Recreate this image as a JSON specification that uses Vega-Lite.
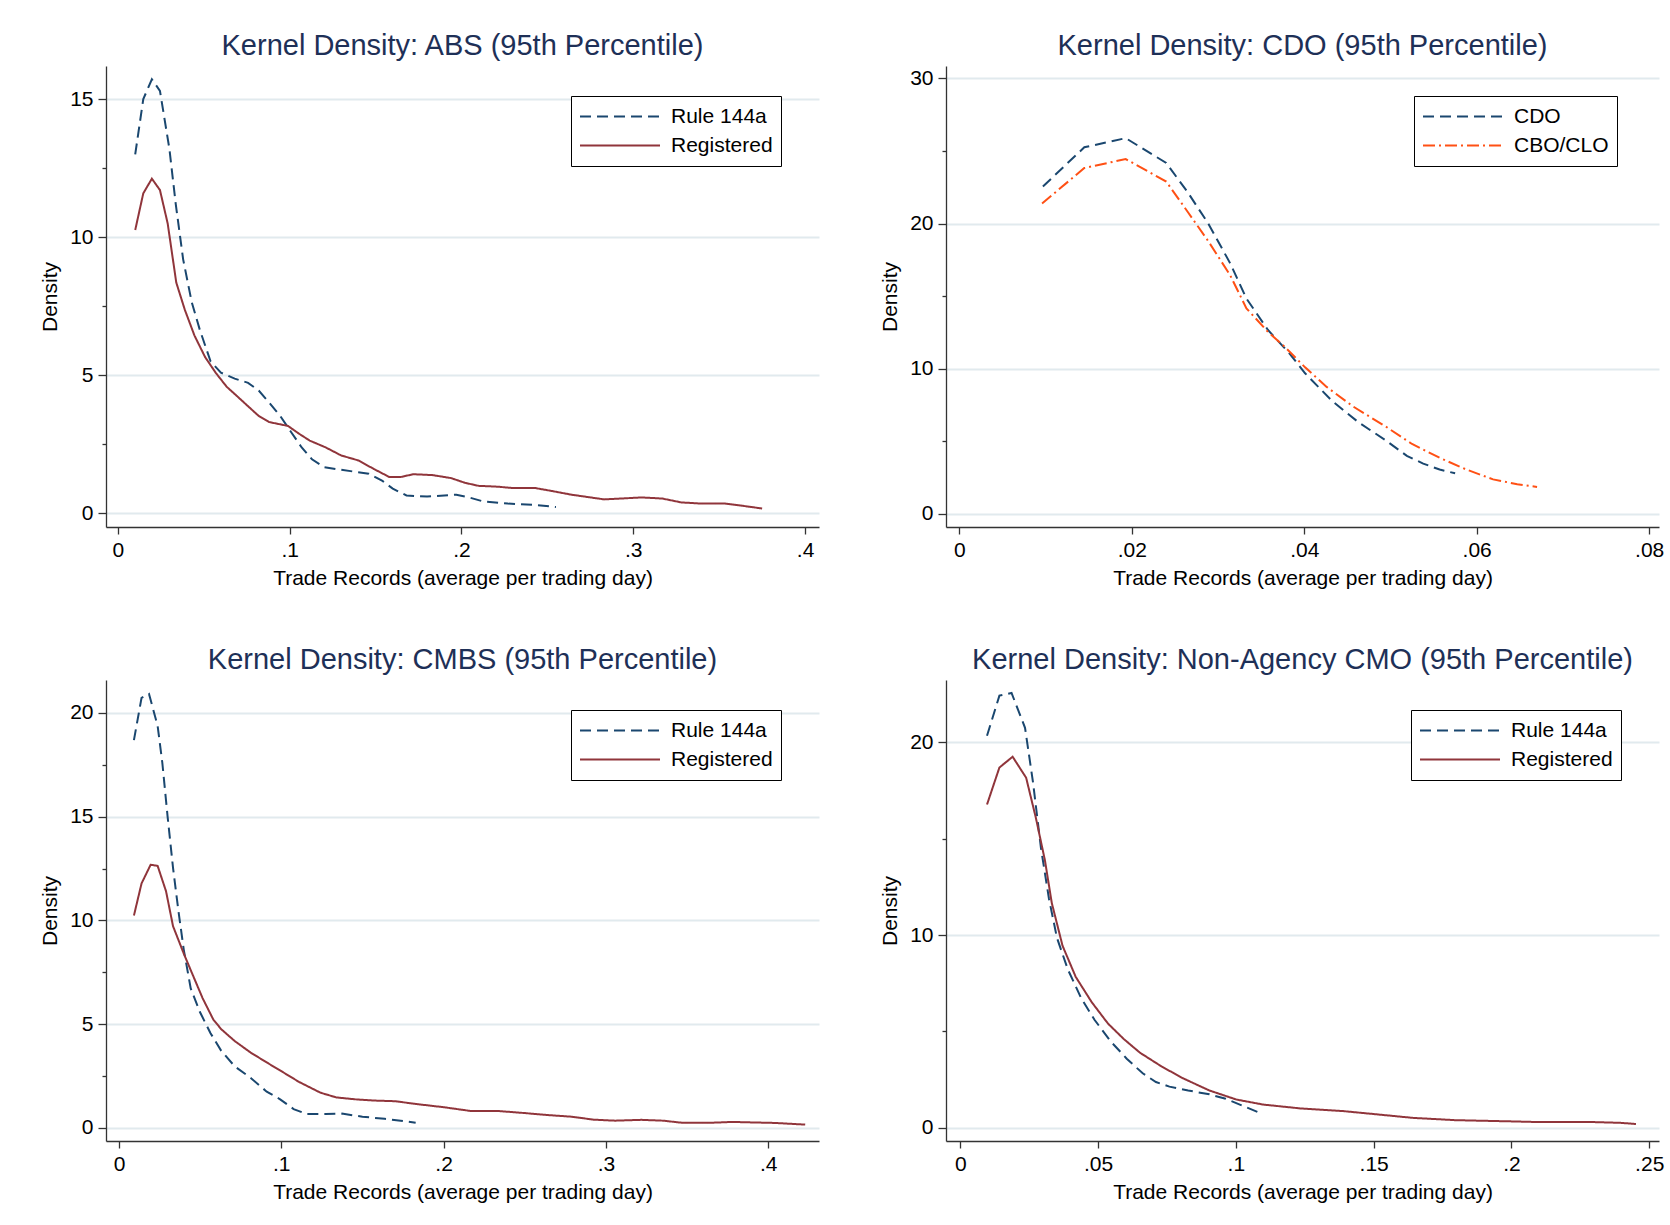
{
  "$schema": "https://vega.github.io/schema/vega-lite/v6.json",
  "background": "white",
  "padding": {"left": 39, "top": 32, "right": 5, "bottom": 5},
  "bounds": "flush",
  "columns": 2,
  "spacing": {"row": 153, "column": 127},
  "datasets": {
    "abs": [
      {"x": 0.0101, "density": 13.0, "series": "Rule 144a"},
      {"x": 0.0148, "density": 15.0, "series": "Rule 144a"},
      {"x": 0.0198, "density": 15.72, "series": "Rule 144a"},
      {"x": 0.0245, "density": 15.3, "series": "Rule 144a"},
      {"x": 0.030, "density": 13.2, "series": "Rule 144a"},
      {"x": 0.0337, "density": 11.2, "series": "Rule 144a"},
      {"x": 0.038, "density": 9.2, "series": "Rule 144a"},
      {"x": 0.043, "density": 7.65, "series": "Rule 144a"},
      {"x": 0.0477, "density": 6.65, "series": "Rule 144a"},
      {"x": 0.054, "density": 5.5, "series": "Rule 144a"},
      {"x": 0.060, "density": 5.1, "series": "Rule 144a"},
      {"x": 0.068, "density": 4.88, "series": "Rule 144a"},
      {"x": 0.0758, "density": 4.73, "series": "Rule 144a"},
      {"x": 0.082, "density": 4.45, "series": "Rule 144a"},
      {"x": 0.088, "density": 4.02, "series": "Rule 144a"},
      {"x": 0.0945, "density": 3.53, "series": "Rule 144a"},
      {"x": 0.1007, "density": 2.96, "series": "Rule 144a"},
      {"x": 0.107, "density": 2.39, "series": "Rule 144a"},
      {"x": 0.113, "density": 1.96, "series": "Rule 144a"},
      {"x": 0.120, "density": 1.68, "series": "Rule 144a"},
      {"x": 0.130, "density": 1.58, "series": "Rule 144a"},
      {"x": 0.146, "density": 1.44, "series": "Rule 144a"},
      {"x": 0.154, "density": 1.18, "series": "Rule 144a"},
      {"x": 0.160, "density": 0.9, "series": "Rule 144a"},
      {"x": 0.168, "density": 0.65, "series": "Rule 144a"},
      {"x": 0.180, "density": 0.61, "series": "Rule 144a"},
      {"x": 0.197, "density": 0.68, "series": "Rule 144a"},
      {"x": 0.205, "density": 0.57, "series": "Rule 144a"},
      {"x": 0.213, "density": 0.43, "series": "Rule 144a"},
      {"x": 0.227, "density": 0.36, "series": "Rule 144a"},
      {"x": 0.243, "density": 0.31, "series": "Rule 144a"},
      {"x": 0.255, "density": 0.23, "series": "Rule 144a"},
      {"x": 0.0101, "density": 10.26, "series": "Registered"},
      {"x": 0.0148, "density": 11.59, "series": "Registered"},
      {"x": 0.0198, "density": 12.12, "series": "Registered"},
      {"x": 0.0245, "density": 11.71, "series": "Registered"},
      {"x": 0.029, "density": 10.5, "series": "Registered"},
      {"x": 0.034, "density": 8.36, "series": "Registered"},
      {"x": 0.039, "density": 7.37, "series": "Registered"},
      {"x": 0.0446, "density": 6.44, "series": "Registered"},
      {"x": 0.0508, "density": 5.66, "series": "Registered"},
      {"x": 0.057, "density": 5.09, "series": "Registered"},
      {"x": 0.0633, "density": 4.59, "series": "Registered"},
      {"x": 0.0695, "density": 4.24, "series": "Registered"},
      {"x": 0.0758, "density": 3.88, "series": "Registered"},
      {"x": 0.082, "density": 3.53, "series": "Registered"},
      {"x": 0.088, "density": 3.31, "series": "Registered"},
      {"x": 0.099, "density": 3.17, "series": "Registered"},
      {"x": 0.1054, "density": 2.89, "series": "Registered"},
      {"x": 0.1116, "density": 2.64, "series": "Registered"},
      {"x": 0.121, "density": 2.39, "series": "Registered"},
      {"x": 0.130, "density": 2.1, "series": "Registered"},
      {"x": 0.140, "density": 1.92, "series": "Registered"},
      {"x": 0.149, "density": 1.61, "series": "Registered"},
      {"x": 0.158, "density": 1.32, "series": "Registered"},
      {"x": 0.1646, "density": 1.32, "series": "Registered"},
      {"x": 0.172, "density": 1.42, "series": "Registered"},
      {"x": 0.183, "density": 1.39, "series": "Registered"},
      {"x": 0.194, "density": 1.28, "series": "Registered"},
      {"x": 0.202, "density": 1.11, "series": "Registered"},
      {"x": 0.210, "density": 1.0, "series": "Registered"},
      {"x": 0.221, "density": 0.97, "series": "Registered"},
      {"x": 0.230, "density": 0.92, "series": "Registered"},
      {"x": 0.243, "density": 0.92, "series": "Registered"},
      {"x": 0.252, "density": 0.82, "series": "Registered"},
      {"x": 0.264, "density": 0.68, "series": "Registered"},
      {"x": 0.283, "density": 0.51, "series": "Registered"},
      {"x": 0.305, "density": 0.58, "series": "Registered"},
      {"x": 0.317, "density": 0.54, "series": "Registered"},
      {"x": 0.328, "density": 0.4, "series": "Registered"},
      {"x": 0.339, "density": 0.36, "series": "Registered"},
      {"x": 0.353, "density": 0.36, "series": "Registered"},
      {"x": 0.361, "density": 0.3, "series": "Registered"},
      {"x": 0.375, "density": 0.18, "series": "Registered"}
    ],
    "cdo": [
      {"x": 0.0097, "density": 22.56, "series": "CDO"},
      {"x": 0.0145, "density": 25.26, "series": "CDO"},
      {"x": 0.0193, "density": 25.89, "series": "CDO"},
      {"x": 0.024, "density": 24.18, "series": "CDO"},
      {"x": 0.0265, "density": 22.15, "series": "CDO"},
      {"x": 0.0289, "density": 19.98, "series": "CDO"},
      {"x": 0.0314, "density": 17.28, "series": "CDO"},
      {"x": 0.0333, "density": 14.84, "series": "CDO"},
      {"x": 0.0358, "density": 12.67, "series": "CDO"},
      {"x": 0.0383, "density": 11.05, "series": "CDO"},
      {"x": 0.0401, "density": 9.69, "series": "CDO"},
      {"x": 0.0432, "density": 7.8, "series": "CDO"},
      {"x": 0.0463, "density": 6.31, "series": "CDO"},
      {"x": 0.0494, "density": 5.09, "series": "CDO"},
      {"x": 0.0519, "density": 4.0, "series": "CDO"},
      {"x": 0.0538, "density": 3.47, "series": "CDO"},
      {"x": 0.0557, "density": 3.06, "series": "CDO"},
      {"x": 0.0575, "density": 2.8, "series": "CDO"},
      {"x": 0.0096, "density": 21.39, "series": "CBO/CLO"},
      {"x": 0.0145, "density": 23.83, "series": "CBO/CLO"},
      {"x": 0.0193, "density": 24.45, "series": "CBO/CLO"},
      {"x": 0.024, "density": 22.9, "series": "CBO/CLO"},
      {"x": 0.0265, "density": 20.8, "series": "CBO/CLO"},
      {"x": 0.0289, "density": 18.77, "series": "CBO/CLO"},
      {"x": 0.0314, "density": 16.46, "series": "CBO/CLO"},
      {"x": 0.0333, "density": 14.16, "series": "CBO/CLO"},
      {"x": 0.0358, "density": 12.54, "series": "CBO/CLO"},
      {"x": 0.0376, "density": 11.59, "series": "CBO/CLO"},
      {"x": 0.0401, "density": 10.1, "series": "CBO/CLO"},
      {"x": 0.0426, "density": 8.75, "series": "CBO/CLO"},
      {"x": 0.0457, "density": 7.39, "series": "CBO/CLO"},
      {"x": 0.0494, "density": 6.04, "series": "CBO/CLO"},
      {"x": 0.0525, "density": 4.82, "series": "CBO/CLO"},
      {"x": 0.0557, "density": 3.87, "series": "CBO/CLO"},
      {"x": 0.0588, "density": 3.06, "series": "CBO/CLO"},
      {"x": 0.0619, "density": 2.38, "series": "CBO/CLO"},
      {"x": 0.0647, "density": 2.05, "series": "CBO/CLO"},
      {"x": 0.067, "density": 1.86, "series": "CBO/CLO"}
    ],
    "cmbs": [
      {"x": 0.0092, "density": 18.69, "series": "Rule 144a"},
      {"x": 0.0139, "density": 20.73, "series": "Rule 144a"},
      {"x": 0.0185, "density": 20.92, "series": "Rule 144a"},
      {"x": 0.0238, "density": 19.38, "series": "Rule 144a"},
      {"x": 0.0267, "density": 17.6, "series": "Rule 144a"},
      {"x": 0.030, "density": 14.97, "series": "Rule 144a"},
      {"x": 0.0333, "density": 12.53, "series": "Rule 144a"},
      {"x": 0.0366, "density": 10.47, "series": "Rule 144a"},
      {"x": 0.0399, "density": 8.59, "series": "Rule 144a"},
      {"x": 0.0442, "density": 6.72, "series": "Rule 144a"},
      {"x": 0.0498, "density": 5.59, "series": "Rule 144a"},
      {"x": 0.0564, "density": 4.56, "series": "Rule 144a"},
      {"x": 0.063, "density": 3.71, "series": "Rule 144a"},
      {"x": 0.0713, "density": 2.96, "series": "Rule 144a"},
      {"x": 0.0812, "density": 2.4, "series": "Rule 144a"},
      {"x": 0.091, "density": 1.74, "series": "Rule 144a"},
      {"x": 0.0993, "density": 1.37, "series": "Rule 144a"},
      {"x": 0.1076, "density": 0.9, "series": "Rule 144a"},
      {"x": 0.1158, "density": 0.66, "series": "Rule 144a"},
      {"x": 0.1274, "density": 0.66, "series": "Rule 144a"},
      {"x": 0.1373, "density": 0.68, "series": "Rule 144a"},
      {"x": 0.150, "density": 0.53, "series": "Rule 144a"},
      {"x": 0.1637, "density": 0.43, "series": "Rule 144a"},
      {"x": 0.1736, "density": 0.34, "series": "Rule 144a"},
      {"x": 0.1828, "density": 0.24, "series": "Rule 144a"},
      {"x": 0.0092, "density": 10.23, "series": "Registered"},
      {"x": 0.0139, "density": 11.78, "series": "Registered"},
      {"x": 0.0195, "density": 12.68, "series": "Registered"},
      {"x": 0.0238, "density": 12.63, "series": "Registered"},
      {"x": 0.029, "density": 11.4, "series": "Registered"},
      {"x": 0.0333, "density": 9.72, "series": "Registered"},
      {"x": 0.0399, "density": 8.4, "series": "Registered"},
      {"x": 0.0449, "density": 7.47, "series": "Registered"},
      {"x": 0.0515, "density": 6.25, "series": "Registered"},
      {"x": 0.0581, "density": 5.22, "series": "Registered"},
      {"x": 0.063, "density": 4.75, "series": "Registered"},
      {"x": 0.0713, "density": 4.18, "series": "Registered"},
      {"x": 0.0812, "density": 3.62, "series": "Registered"},
      {"x": 0.091, "density": 3.15, "series": "Registered"},
      {"x": 0.101, "density": 2.68, "series": "Registered"},
      {"x": 0.1109, "density": 2.21, "series": "Registered"},
      {"x": 0.1241, "density": 1.69, "series": "Registered"},
      {"x": 0.134, "density": 1.46, "series": "Registered"},
      {"x": 0.1455, "density": 1.37, "series": "Registered"},
      {"x": 0.157, "density": 1.31, "series": "Registered"},
      {"x": 0.170, "density": 1.28, "series": "Registered"},
      {"x": 0.1835, "density": 1.14, "series": "Registered"},
      {"x": 0.200, "density": 0.99, "series": "Registered"},
      {"x": 0.2165, "density": 0.81, "series": "Registered"},
      {"x": 0.233, "density": 0.81, "series": "Registered"},
      {"x": 0.2495, "density": 0.71, "series": "Registered"},
      {"x": 0.2627, "density": 0.62, "series": "Registered"},
      {"x": 0.279, "density": 0.53, "series": "Registered"},
      {"x": 0.2924, "density": 0.39, "series": "Registered"},
      {"x": 0.3056, "density": 0.34, "series": "Registered"},
      {"x": 0.322, "density": 0.38, "series": "Registered"},
      {"x": 0.3353, "density": 0.34, "series": "Registered"},
      {"x": 0.3469, "density": 0.24, "series": "Registered"},
      {"x": 0.365, "density": 0.24, "series": "Registered"},
      {"x": 0.3782, "density": 0.28, "series": "Registered"},
      {"x": 0.388, "density": 0.26, "series": "Registered"},
      {"x": 0.4046, "density": 0.23, "series": "Registered"},
      {"x": 0.4228, "density": 0.15, "series": "Registered"}
    ],
    "cmo": [
      {"x": 0.0097, "density": 20.34, "series": "Rule 144a"},
      {"x": 0.0142, "density": 22.42, "series": "Rule 144a"},
      {"x": 0.0186, "density": 22.56, "series": "Rule 144a"},
      {"x": 0.0235, "density": 20.75, "series": "Rule 144a"},
      {"x": 0.0264, "density": 17.92, "series": "Rule 144a"},
      {"x": 0.0293, "density": 14.49, "series": "Rule 144a"},
      {"x": 0.0322, "density": 11.87, "series": "Rule 144a"},
      {"x": 0.0351, "density": 9.85, "series": "Rule 144a"},
      {"x": 0.039, "density": 8.23, "series": "Rule 144a"},
      {"x": 0.0439, "density": 6.72, "series": "Rule 144a"},
      {"x": 0.0487, "density": 5.61, "series": "Rule 144a"},
      {"x": 0.0545, "density": 4.5, "series": "Rule 144a"},
      {"x": 0.0604, "density": 3.59, "series": "Rule 144a"},
      {"x": 0.0662, "density": 2.83, "series": "Rule 144a"},
      {"x": 0.071, "density": 2.38, "series": "Rule 144a"},
      {"x": 0.0759, "density": 2.14, "series": "Rule 144a"},
      {"x": 0.0827, "density": 1.94, "series": "Rule 144a"},
      {"x": 0.0904, "density": 1.74, "series": "Rule 144a"},
      {"x": 0.0963, "density": 1.51, "series": "Rule 144a"},
      {"x": 0.1021, "density": 1.17, "series": "Rule 144a"},
      {"x": 0.1089, "density": 0.77, "series": "Rule 144a"},
      {"x": 0.0097, "density": 16.77, "series": "Registered"},
      {"x": 0.0142, "density": 18.69, "series": "Registered"},
      {"x": 0.019, "density": 19.25, "series": "Registered"},
      {"x": 0.0239, "density": 18.16, "series": "Registered"},
      {"x": 0.0274, "density": 16.1, "series": "Registered"},
      {"x": 0.0307, "density": 13.89, "series": "Registered"},
      {"x": 0.0332, "density": 11.67, "series": "Registered"},
      {"x": 0.0371, "density": 9.45, "series": "Registered"},
      {"x": 0.0419, "density": 7.83, "series": "Registered"},
      {"x": 0.0477, "density": 6.52, "series": "Registered"},
      {"x": 0.0536, "density": 5.41, "series": "Registered"},
      {"x": 0.0594, "density": 4.6, "series": "Registered"},
      {"x": 0.0652, "density": 3.9, "series": "Registered"},
      {"x": 0.073, "density": 3.19, "series": "Registered"},
      {"x": 0.0807, "density": 2.58, "series": "Registered"},
      {"x": 0.0904, "density": 1.94, "series": "Registered"},
      {"x": 0.1002, "density": 1.47, "series": "Registered"},
      {"x": 0.1099, "density": 1.21, "series": "Registered"},
      {"x": 0.1234, "density": 1.01, "series": "Registered"},
      {"x": 0.139, "density": 0.87, "series": "Registered"},
      {"x": 0.1506, "density": 0.71, "series": "Registered"},
      {"x": 0.1642, "density": 0.52, "series": "Registered"},
      {"x": 0.1797, "density": 0.4, "series": "Registered"},
      {"x": 0.1991, "density": 0.34, "series": "Registered"},
      {"x": 0.2108, "density": 0.3, "series": "Registered"},
      {"x": 0.2302, "density": 0.3, "series": "Registered"},
      {"x": 0.2399, "density": 0.26, "series": "Registered"},
      {"x": 0.2452, "density": 0.2, "series": "Registered"}
    ]
  },
  "concat": [
    {
      "width": 713, "height": 461,
      "title": "Kernel Density: ABS (95th Percentile)",
      "data": {"name": "abs"},
      "mark": {"type": "line", "strokeWidth": 2},
      "encoding": {
        "x": {"field": "x", "type": "quantitative",
          "scale": {"domain": [-0.0069, 0.4081], "nice": false, "zero": false},
          "axis": {"values": [0, 0.1, 0.2, 0.3, 0.4], "title": "Trade Records (average per trading day)",
            "labelExpr": "replace(format(datum.value, '~g'), '0.', '.')"}},
        "y": {"field": "density", "type": "quantitative",
          "scale": {"domain": [-0.49, 16.2], "nice": false, "zero": false},
          "axis": {"values": [0, 2.5, 5, 7.5, 10, 12.5, 15], "title": "Density",
            "labelExpr": "datum.value % 5 === 0 ? datum.label : ''",
            "tickDash": {"condition": {"test": "datum.value % 5 === 0", "value": [20, 0]}, "value": [4, 20]},
            "gridOpacity": {"condition": {"test": "datum.value % 5 === 0", "value": 1}, "value": 0}}},
        "color": {"field": "series", "type": "nominal",
          "scale": {"domain": ["Rule 144a", "Registered"], "range": ["#1a476f", "#90353b"]},
          "legend": {"title": null, "orient": "none", "legendX": 465, "legendY": 30}},
        "strokeDash": {"field": "series", "type": "nominal",
          "scale": {"domain": ["Rule 144a", "Registered"], "range": [[11, 6], [1, 0]]},
          "legend": {"title": null, "orient": "none", "legendX": 465, "legendY": 30}}
      }
    },
    {
      "width": 713, "height": 461,
      "title": "Kernel Density: CDO (95th Percentile)",
      "data": {"name": "cdo"},
      "mark": {"type": "line", "strokeWidth": 2},
      "encoding": {
        "x": {"field": "x", "type": "quantitative",
          "scale": {"domain": [-0.00154, 0.08114], "nice": false, "zero": false},
          "axis": {"values": [0, 0.02, 0.04, 0.06, 0.08], "title": "Trade Records (average per trading day)",
            "labelExpr": "replace(format(datum.value, '~g'), '0.', '.')"}},
        "y": {"field": "density", "type": "quantitative",
          "scale": {"domain": [-0.9, 30.86], "nice": false, "zero": false},
          "axis": {"values": [0, 5, 10, 15, 20, 25, 30], "title": "Density",
            "labelExpr": "datum.value % 10 === 0 ? datum.label : ''",
            "tickDash": {"condition": {"test": "datum.value % 10 === 0", "value": [20, 0]}, "value": [4, 20]},
            "gridOpacity": {"condition": {"test": "datum.value % 10 === 0", "value": 1}, "value": 0}}},
        "color": {"field": "series", "type": "nominal",
          "scale": {"domain": ["CDO", "CBO/CLO"], "range": ["#1a476f", "#ff5014"]},
          "legend": {"title": null, "orient": "none", "legendX": 468, "legendY": 30}},
        "strokeDash": {"field": "series", "type": "nominal",
          "scale": {"domain": ["CDO", "CBO/CLO"], "range": [[11, 6], [12, 4, 2, 4]]},
          "legend": {"title": null, "orient": "none", "legendX": 468, "legendY": 30}}
      }
    },
    {
      "width": 713, "height": 461,
      "title": "Kernel Density: CMBS (95th Percentile)",
      "data": {"name": "cmbs"},
      "mark": {"type": "line", "strokeWidth": 2},
      "encoding": {
        "x": {"field": "x", "type": "quantitative",
          "scale": {"domain": [-0.008, 0.4313], "nice": false, "zero": false},
          "axis": {"values": [0, 0.1, 0.2, 0.3, 0.4], "title": "Trade Records (average per trading day)",
            "labelExpr": "replace(format(datum.value, '~g'), '0.', '.')"}},
        "y": {"field": "density", "type": "quantitative",
          "scale": {"domain": [-0.64, 21.59], "nice": false, "zero": false},
          "axis": {"values": [0, 2.5, 5, 7.5, 10, 12.5, 15, 17.5, 20], "title": "Density",
            "labelExpr": "datum.value % 5 === 0 ? datum.label : ''",
            "tickDash": {"condition": {"test": "datum.value % 5 === 0", "value": [20, 0]}, "value": [4, 20]},
            "gridOpacity": {"condition": {"test": "datum.value % 5 === 0", "value": 1}, "value": 0}}},
        "color": {"field": "series", "type": "nominal",
          "scale": {"domain": ["Rule 144a", "Registered"], "range": ["#1a476f", "#90353b"]},
          "legend": {"title": null, "orient": "none", "legendX": 465, "legendY": 30}},
        "strokeDash": {"field": "series", "type": "nominal",
          "scale": {"domain": ["Rule 144a", "Registered"], "range": [[11, 6], [1, 0]]},
          "legend": {"title": null, "orient": "none", "legendX": 465, "legendY": 30}}
      }
    },
    {
      "width": 713, "height": 461,
      "title": "Kernel Density: Non-Agency CMO (95th Percentile)",
      "data": {"name": "cmo"},
      "mark": {"type": "line", "strokeWidth": 2},
      "encoding": {
        "x": {"field": "x", "type": "quantitative",
          "scale": {"domain": [-0.00518, 0.25355], "nice": false, "zero": false},
          "axis": {"values": [0, 0.05, 0.1, 0.15, 0.2, 0.25], "title": "Trade Records (average per trading day)",
            "labelExpr": "replace(format(datum.value, '~g'), '0.', '.')"}},
        "y": {"field": "density", "type": "quantitative",
          "scale": {"domain": [-0.68, 23.23], "nice": false, "zero": false},
          "axis": {"values": [0, 5, 10, 15, 20], "title": "Density",
            "labelExpr": "datum.value % 10 === 0 ? datum.label : ''",
            "tickDash": {"condition": {"test": "datum.value % 10 === 0", "value": [20, 0]}, "value": [4, 20]},
            "gridOpacity": {"condition": {"test": "datum.value % 10 === 0", "value": 1}, "value": 0}}},
        "color": {"field": "series", "type": "nominal",
          "scale": {"domain": ["Rule 144a", "Registered"], "range": ["#1a476f", "#90353b"]},
          "legend": {"title": null, "orient": "none", "legendX": 465, "legendY": 30}},
        "strokeDash": {"field": "series", "type": "nominal",
          "scale": {"domain": ["Rule 144a", "Registered"], "range": [[11, 6], [1, 0]]},
          "legend": {"title": null, "orient": "none", "legendX": 465, "legendY": 30}}
      }
    }
  ],
  "resolve": {"scale": {"color": "independent", "strokeDash": "independent"}},
  "config": {
    "font": "Liberation Sans",
    "view": {"stroke": null},
    "axis": {
      "labelFont": "Liberation Sans", "labelFontSize": 21, "labelColor": "black",
      "titleFont": "Liberation Sans", "titleFontSize": 21, "titleFontWeight": "normal", "titleColor": "black",
      "domainColor": "#333333", "domainWidth": 1.3, "tickColor": "#333333", "tickWidth": 1.3,
      "labelFlush": false, "labelOverlap": false
    },
    "axisX": {"grid": false, "tickSize": 7, "labelPadding": 5, "titlePadding": 7, "labelAngle": 0},
    "axisY": {"grid": true, "gridColor": "#e1eaee", "gridWidth": 2, "tickSize": 8, "labelPadding": 5, "titlePadding": 9, "labelAngle": 0},
    "title": {"font": "Liberation Sans", "fontSize": 29, "fontWeight": "normal", "color": "#1e3057", "anchor": "middle", "frame": "group", "offset": 5},
    "legend": {
      "symbolType": "stroke", "symbolSize": 6400, "symbolStrokeWidth": 2,
      "labelFont": "Liberation Sans", "labelFontSize": 21, "labelColor": "black", "labelOffset": 10,
      "strokeColor": "black", "strokeWidth": 1, "fillColor": "white",
      "padding": 8, "rowPadding": 4, "clipHeight": 25
    }
  }
}
